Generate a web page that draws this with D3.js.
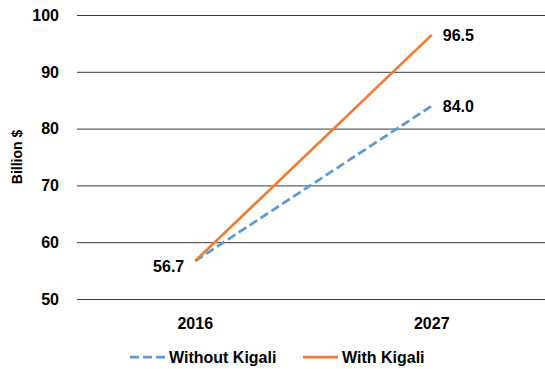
<!doctype html>
<html>
<head>
<meta charset="UTF-8">
<title>Kigali</title>
<script src="https://cdn.jsdelivr.net/npm/d3@7"></script>
<style>
  body { margin: 0; background: #fff; }
  text { font-family: "Liberation Sans", Arial, sans-serif; font-weight: bold; fill: #000; }
</style>
</head>
<body>
<svg width="545" height="369"></svg>
<script>
var years = ["2016", "2027"];
var withoutKigali = [56.7, 84.0];
var withKigali = [56.7, 96.5];
var yTicks = [50, 60, 70, 80, 90, 100];

var svg = d3.select("svg");
var plotLeft = 77, plotRight = 550, plotTop = 15, plotBottom = 299;

var x = d3.scalePoint().domain(years).range([plotLeft, plotRight]).padding(0.5);
var y = d3.scaleLinear().domain([50, 100]).range([plotBottom, plotTop]);

// gridlines
svg.selectAll("line.grid")
  .data(yTicks)
  .enter().append("line")
  .attr("class", "grid")
  .attr("x1", plotLeft).attr("x2", plotRight)
  .attr("y1", function(d){ return y(d) + 0.5; })
  .attr("y2", function(d){ return y(d) + 0.5; })
  .attr("stroke", "#3a3a3a")
  .attr("stroke-width", 1);

// y tick labels
svg.selectAll("text.ytick")
  .data(yTicks)
  .enter().append("text")
  .attr("class", "ytick")
  .attr("x", 59)
  .attr("y", function(d){ return y(d); })
  .attr("dy", "0.36em")
  .attr("text-anchor", "end")
  .style("font-size", "16px")
  .text(function(d){ return d; });

// x tick labels
svg.selectAll("text.xtick")
  .data(years)
  .enter().append("text")
  .attr("class", "xtick")
  .attr("x", function(d){ return x(d); })
  .attr("y", 329)
  .attr("text-anchor", "middle")
  .style("font-size", "16px")
  .text(function(d){ return d; });

// axis title
svg.append("text")
  .attr("transform", "translate(22," + ((plotTop + plotBottom) / 2) + ") rotate(-90)")
  .attr("text-anchor", "middle")
  .style("font-size", "14px")
  .text("Billion $");

var line = d3.line()
  .x(function(d, i){ return x(years[i]); })
  .y(function(d){ return y(d); });

svg.append("path")
  .datum(withoutKigali)
  .attr("d", line)
  .attr("fill", "none")
  .attr("stroke", "#5B9BD5")
  .attr("stroke-width", 2.75)
  .attr("stroke-dasharray", "9,4");

svg.append("path")
  .datum(withKigali)
  .attr("d", line)
  .attr("fill", "none")
  .attr("stroke", "#ED7D31")
  .attr("stroke-width", 2.75);

// data labels
svg.append("text")
  .attr("x", x(years[0]) - 11)
  .attr("y", y(withKigali[0]) + 5)
  .attr("dy", "0.36em")
  .attr("text-anchor", "end")
  .style("font-size", "16px")
  .text(withKigali[0].toFixed(1));

svg.append("text")
  .attr("x", x(years[1]) + 11)
  .attr("y", y(withKigali[1]))
  .attr("dy", "0.36em")
  .style("font-size", "16px")
  .text(withKigali[1].toFixed(1));

svg.append("text")
  .attr("x", x(years[1]) + 11)
  .attr("y", y(withoutKigali[1]))
  .attr("dy", "0.36em")
  .style("font-size", "16px")
  .text(withoutKigali[1].toFixed(1));

// legend
var legend = [
  { name: "Without Kigali", color: "#5B9BD5", dash: "9,4", x: 130 },
  { name: "With Kigali", color: "#ED7D31", dash: null, x: 303 }
];
var lg = svg.selectAll("g.legend")
  .data(legend)
  .enter().append("g")
  .attr("class", "legend")
  .attr("transform", function(d){ return "translate(" + d.x + ",357)"; });
lg.append("line")
  .attr("x1", 0).attr("x2", 35).attr("y1", 0).attr("y2", 0)
  .attr("stroke", function(d){ return d.color; })
  .attr("stroke-width", 2.75)
  .attr("stroke-dasharray", function(d){ return d.dash; });
lg.append("text")
  .attr("x", 39)
  .attr("dy", "0.36em")
  .style("font-size", "16px")
  .text(function(d){ return d.name; });
</script>
</body>
</html>
